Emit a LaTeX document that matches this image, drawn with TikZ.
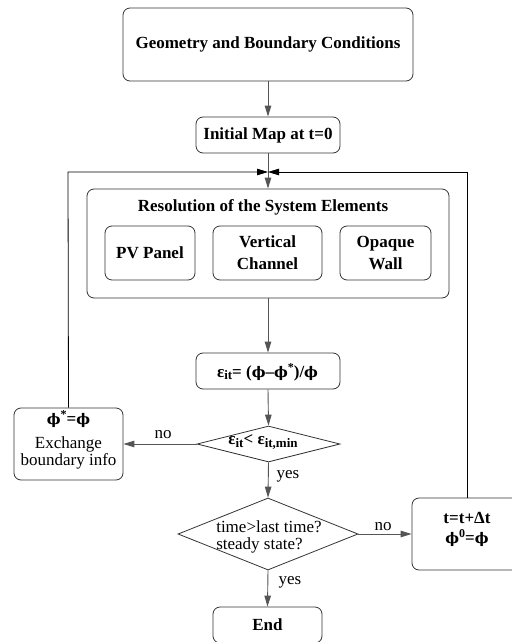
\documentclass[tikz,border=0pt]{standalone}
\usepackage{fontspec}
\setmainfont{Liberation Serif}
\newfontfamily\phifont{DejaVu Serif}[Scale=0.86]
\usetikzlibrary{shapes.geometric,arrows.meta}
\definecolor{linegray}{HTML}{555555}
\definecolor{boxgray}{HTML}{333333}
\newcommand{\sub}[1]{\raisebox{-0.35ex}{\fontsize{13}{13}\selectfont #1}}
\newcommand{\sups}[1]{\raisebox{0.75ex}{\fontsize{12}{12}\selectfont #1}}
\newcommand{\ph}{{\phifont ϕ}}
\begin{document}
\begin{tikzpicture}[x=1pt,y=-1pt,
  box/.style={draw=boxgray, rounded corners=7pt, line width=0.8pt, align=center,
    inner sep=0pt, font=\fontsize{17}{22}\selectfont\bfseries},
  dia/.style={draw=boxgray, diamond, line width=0.8pt, inner sep=0pt, aspect=1},
  txt/.style={inner sep=0pt, font=\fontsize{17}{20}\selectfont\bfseries, align=center},
  lbl/.style={inner sep=0pt, font=\fontsize{17}{17}\selectfont},
  arr/.style={draw=linegray, line width=0.9pt, -{Triangle[length=11pt,width=6.5pt]}},
  loopln/.style={draw=black, line width=0.8pt, -{Triangle[length=11pt,width=6.5pt]}}
]
\useasboundingbox (0,0) rectangle (511,642);

\node[box, minimum width=290pt, minimum height=73pt] (geo) at (268,44.5) {Geometry and Boundary Conditions};
\node[box, minimum width=144pt, minimum height=36pt] (init) at (268,135) {Initial Map at t=0};

\node[box, minimum width=362pt, minimum height=109pt] (res) at (268,243.5) {};
\node[txt] (restitle) at (263,207) {Resolution of the System Elements};
\node[box, minimum width=90pt, minimum height=54pt] (pv) at (150,253) {PV Panel};
\node[box, minimum width=109pt, minimum height=54pt] (vc) at (267.5,253) {Vertical\\Channel};
\node[box, minimum width=91pt, minimum height=54pt] (ow) at (385.5,253) {Opaque\\Wall};

\node[box, minimum width=144pt, minimum height=36pt] (eps) at (268,371) {};
\node[txt] (epstxt) at (267.5,372) {ε\sub{it}= (\ph–\ph\sups{*})/\ph};

\node[dia, minimum width=143pt, minimum height=36pt] (d1) at (268.5,444) {};
\node[txt] (d1txt) at (263,442) {ε\sub{it}< ε\sub{it,min}};

\node[box, minimum width=109pt, minimum height=72pt] (lb) at (68.5,444) {};
\node[txt] (lbtop) at (68.5,419) {\ph\sups{*}=\ph};
\node[lbl, align=center] (lbtxt) at (68.5,453) {Exchange\\boundary info};

\node[dia, minimum width=180pt, minimum height=72pt] (d2) at (268,534) {};
\node[lbl, align=left, font=\fontsize{17}{17}\selectfont] (d2txt) at (269,537) {time>last time?\\steady state?};

\node[box, minimum width=110pt, minimum height=72pt] (rb) at (467,534) {};
\node[txt] (rbtxt) at (467,529) {t=t+Δt\\\ph\sups{0}=\ph};

\node[box, minimum width=109pt, minimum height=36pt] (end) at (267.5,625) {End};

\coordinate (jn) at (268,172);

\draw[arr] (geo.south) -- (init.north);
\draw[arr] (init.south) -- (res.north);
\draw[loopln] (lb.north) -- (68,172) -- (jn);
\draw[loopln] (rb.north) -- (467,172) -- (jn);
\draw[arr] (res.south) -- (eps.north);
\draw[arr] (eps.south) -- (d1.north);
\draw[arr] (d1.west) -- (lb.east);
\node[lbl] (no1) at (163,435) {no};
\draw[arr] (d1.south) -- (d2.north);
\node[lbl] (yes1) at (288,476) {yes};
\draw[arr] (d2.east) -- (rb.west);
\node[lbl] (no2) at (383,527) {no};
\draw[arr] (d2.south) -- (end.north);
\node[lbl] (yes2) at (290,582) {yes};
\end{tikzpicture}
\end{document}
